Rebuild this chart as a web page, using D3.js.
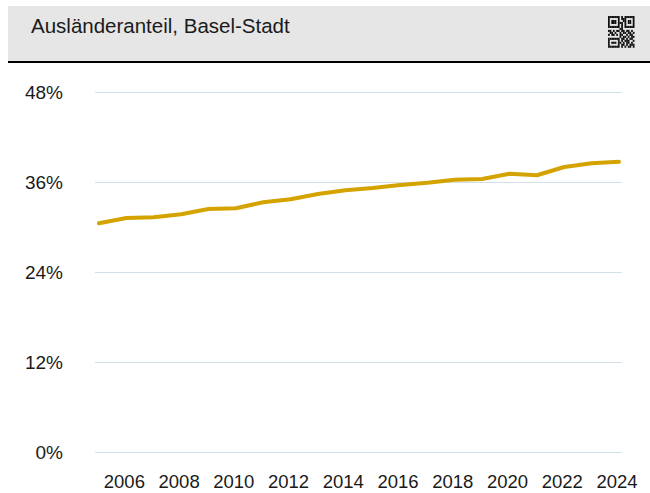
<!DOCTYPE html>
<html>
<head>
<meta charset="utf-8">
<script src="https://cdn.jsdelivr.net/npm/d3@7"></script>
<style>
  body { margin: 0; background: #fff; }
  svg text { font-family: "Liberation Sans", Arial, sans-serif; fill: #1a1a1a; }
</style>
</head>
<body>
<div id="chart"></div>
<script>
// data
var years = [2005, 2006, 2007, 2008, 2009, 2010, 2011, 2012, 2013, 2014,
             2015, 2016, 2017, 2018, 2019, 2020, 2021, 2022, 2023, 2024];
var shares = [30.5, 31.2, 31.3, 31.7, 32.4, 32.5, 33.3, 33.7, 34.4, 34.9,
              35.2, 35.6, 35.9, 36.3, 36.4, 37.1, 36.9, 38.0, 38.5, 38.7];
var yTicks = [0, 12, 24, 36, 48];
var xTicks = [2006, 2008, 2010, 2012, 2014, 2016, 2018, 2020, 2022, 2024];
var title = "Ausländeranteil, Basel-Stadt";

var width = 650, height = 493;

var svg = d3.select("#chart").append("svg")
    .attr("width", width)
    .attr("height", height);

// header band
svg.append("rect")
    .attr("x", 8).attr("y", 6)
    .attr("width", width - 8).attr("height", 55)
    .attr("fill", "#e6e6e6");
svg.append("rect")
    .attr("x", 8).attr("y", 61)
    .attr("width", width - 8).attr("height", 2)
    .attr("fill", "#000");
svg.append("text")
    .attr("x", 31).attr("y", 33)
    .style("font-size", "20.5px")
    .text(title);

// little qr-like icon
var qr = [
  "1111111010111111",
  "1000001011100001",
  "1011101001101101",
  "1011101110101101",
  "1000001010100001",
  "1111111010111111",
  "0000000110000000",
  "1101011011011010",
  "0110100101101101",
  "1011010110010110",
  "0000000101101011",
  "1111111011010110",
  "1000001010111001",
  "1011101101011010",
  "1000001011010111",
  "1111111010101101"
];
var cell = 1.65;
var qrG = svg.append("g").attr("transform", "translate(608,16)");
qr.forEach(function (row, r) {
    row.split("").forEach(function (c, k) {
        if (c == "1") {
            qrG.append("rect")
                .attr("x", k * cell).attr("y", r * cell * 1.2)
                .attr("width", cell + 0.1).attr("height", cell * 1.2 + 0.1)
                .attr("fill", "#111");
        }
    });
});

// scales
var x = d3.scaleLinear().domain([2005, 2024]).range([99, 619]);
var y = d3.scaleLinear().domain([0, 48]).range([452, 92]);

// grid
svg.append("g").selectAll("line")
    .data(yTicks)
    .enter().append("line")
    .attr("x1", 95).attr("x2", 622)
    .attr("y1", function (d) { return y(d) + 0.5; })
    .attr("y2", function (d) { return y(d) + 0.5; })
    .attr("stroke", "#d3e0e8")
    .attr("stroke-width", 1);

svg.append("g").selectAll("text")
    .data(yTicks)
    .enter().append("text")
    .attr("x", 63)
    .attr("y", function (d) { return y(d); })
    .attr("dy", "0.35em")
    .attr("text-anchor", "end")
    .style("font-size", "19px")
    .text(function (d) { return d + "%"; });

// x labels
svg.append("g").selectAll("text")
    .data(xTicks)
    .enter().append("text")
    .attr("x", function (d) { return x(d) - 2; })
    .attr("y", 488)
    .attr("text-anchor", "middle")
    .style("font-size", "18.5px")
    .text(function (d) { return d; });

// line
var line = d3.line()
    .x(function (d, i) { return x(years[i]); })
    .y(function (d) { return y(d); });

svg.append("path")
    .datum(shares)
    .attr("d", line)
    .attr("fill", "none")
    .attr("stroke", "#d4a300")
    .attr("stroke-width", 4)
    .attr("stroke-linejoin", "round")
    .attr("stroke-linecap", "round");
</script>
</body>
</html>
